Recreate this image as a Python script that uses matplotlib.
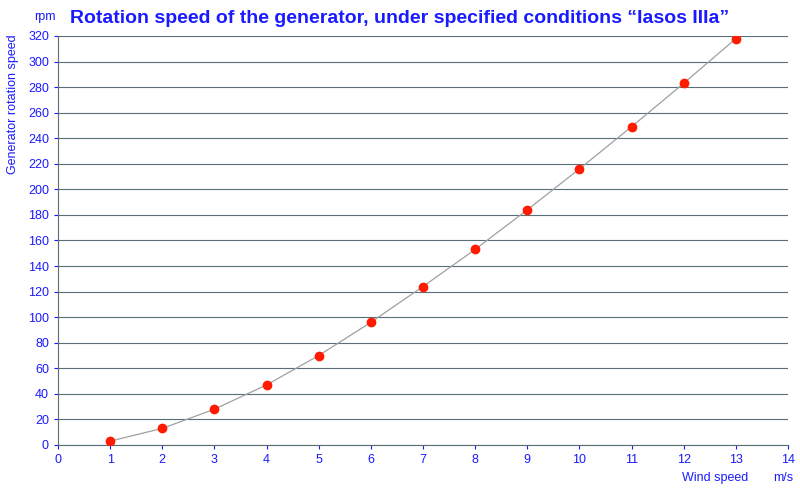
import matplotlib
matplotlib.use("Agg")
import matplotlib.pyplot as plt

plt.rcParams['font.family'] = 'Liberation Sans'

wind = [1, 2, 3, 4, 5, 6, 7, 8, 9, 10, 11, 12, 13]
rpm = [3, 13, 28, 47, 70, 96, 124, 153, 184, 216, 249, 283, 318]

blue = '#1a1aff'

fig = plt.figure(figsize=(8, 4.91), dpi=100)
ax = fig.add_axes([0.0725, 0.0937, 0.9125, 0.833])

ax.plot(wind, rpm, color='#a0a0a0', lw=0.9, zorder=2)
ax.scatter(wind, rpm, color='#ff1a00', s=36, zorder=3)

ax.set_xlim(0, 14)
ax.set_ylim(0, 320)
ax.set_xticks(range(0, 15))
ax.set_yticks(range(0, 321, 20))
ax.yaxis.grid(True, color='#5a6e78', lw=0.8)
ax.set_axisbelow(True)
ax.tick_params(colors=blue, labelsize=9, length=3)
for s in ['top', 'right']:
    ax.spines[s].set_visible(False)
ax.spines['left'].set_color('#5a6e78')
ax.spines['bottom'].set_color('#5a6e78')

fig.text(0.5, 0.962, 'Rotation speed of the generator, under specified conditions \u201cIasos IIIa\u201d',
         ha='center', va='center', color=blue, fontsize=14, fontweight='bold')
fig.text(0.043, 0.965, 'rpm', ha='left', va='center', color=blue, fontsize=9)
fig.text(0.016, 0.93, 'Generator rotation speed', rotation=90, ha='center', va='top',
         color=blue, fontsize=9)
fig.text(0.991, 0.026, 'm/s', ha='right', va='center', color=blue, fontsize=9)
fig.text(0.935, 0.026, 'Wind speed', ha='right', va='center', color=blue, fontsize=9)

fig.savefig('out.png', dpi=100)
